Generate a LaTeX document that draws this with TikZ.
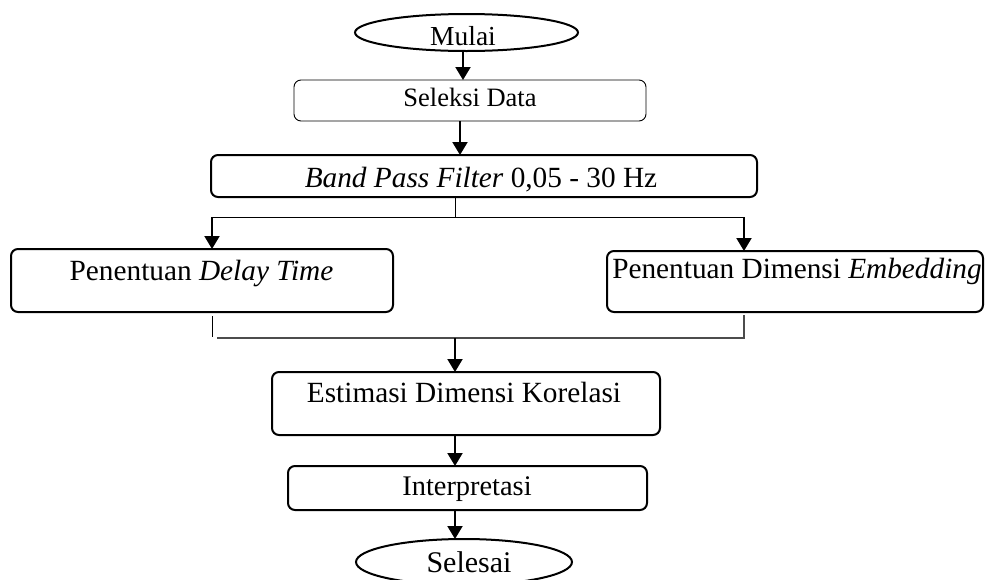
\documentclass[tikz,border=0pt]{standalone}
\usepackage{fontspec}
\setmainfont{Liberation Serif}
\usetikzlibrary{arrows.meta,shapes.geometric}

\tikzset{
  frame/.style={draw, rounded corners=7pt, line width=2pt, inner sep=0pt},
  thinframe/.style={draw, rounded corners=7pt, line width=0.9pt, inner sep=0pt},
  oval/.style={draw, ellipse, line width=2pt, inner sep=0pt},
  lbl/.style={anchor=base, inner sep=0pt, font=\fontsize{29.3}{34}\selectfont},
  arr/.style={line width=2pt, -{Triangle[width=15pt,length=13pt]}},
  thinline/.style={line width=1pt},
  joinline/.style={line width=1.6pt, draw=black!70}
}

\begin{document}
\begin{tikzpicture}[x=1pt, y=-1pt]
\useasboundingbox (0,0) rectangle (988,579);

% shapes
\node[oval, minimum width=223pt, minimum height=37pt] (mulai) at (466.5,32.5) {};
\node[thinframe, minimum width=352pt, minimum height=41pt] (seleksi) at (470,100.5) {};
\node[frame, minimum width=546pt, minimum height=42pt] (band) at (484,176) {};
\node[frame, minimum width=382pt, minimum height=63pt] (delay) at (202,280.5) {};
\node[frame, minimum width=376pt, minimum height=61pt] (embed) at (795,281.5) {};
\node[frame, minimum width=388pt, minimum height=63pt] (estim) at (466,403.5) {};
\node[frame, minimum width=359pt, minimum height=44pt] (interp) at (467.5,488) {};
\node[oval, minimum width=216pt, minimum height=46pt] (selesai) at (464,562) {};

% labels
\node[lbl, font=\fontsize{27.5}{32}\selectfont] (tmulai) at (463,45) {Mulai};
\node[lbl, font=\fontsize{26.5}{32}\selectfont] (tseleksi) at (470,106) {Seleksi Data};
\node[lbl] (tband) at (481,187) {\textit{Band Pass Filter} 0,05 - 30 Hz};
\node[lbl] (tdelay) at (201.5,280) {Penentuan \textit{Delay Time}};
\node[lbl] (tembed) at (797,278) {Penentuan Dimensi \textit{Embedding}};
\node[lbl] (testim) at (464,402) {Estimasi Dimensi Korelasi};
\node[lbl, font=\fontsize{28.4}{33}\selectfont] (tinterp) at (467,495) {Interpretasi};
\node[lbl, font=\fontsize{30}{34}\selectfont] (tselesai) at (469,572) {Selesai};

% junction points
\coordinate (split) at (455,217);
\coordinate (splitL) at (212,217);
\coordinate (splitR) at (744,217);
\coordinate (stubL) at (212,316);
\coordinate (stubLend) at (212,337);
\coordinate (stubR) at (744,315);
\coordinate (joinL) at (217,338);
\coordinate (joinR) at (744,338);
\coordinate (merge) at (455,338);

% connectors
\draw[arr] (463,51) -- (463,80);
\draw[arr] (460,121) -- (460,155);
\draw[thinline] (455,197) -- (split);
\draw[thinline] (splitL) -- (splitR);
\draw[arr] (splitL) -- (212,249);
\draw[arr] (splitR) -- (744,251);
\draw[thinline] (stubL) -- (stubLend);
\draw[joinline] (stubR) -- (joinR) -- (joinL);
\draw[arr] (merge) -- (455,372);
\draw[arr] (455,435) -- (455,466);
\draw[arr] (455,510) -- (455,539);
\end{tikzpicture}
\end{document}
